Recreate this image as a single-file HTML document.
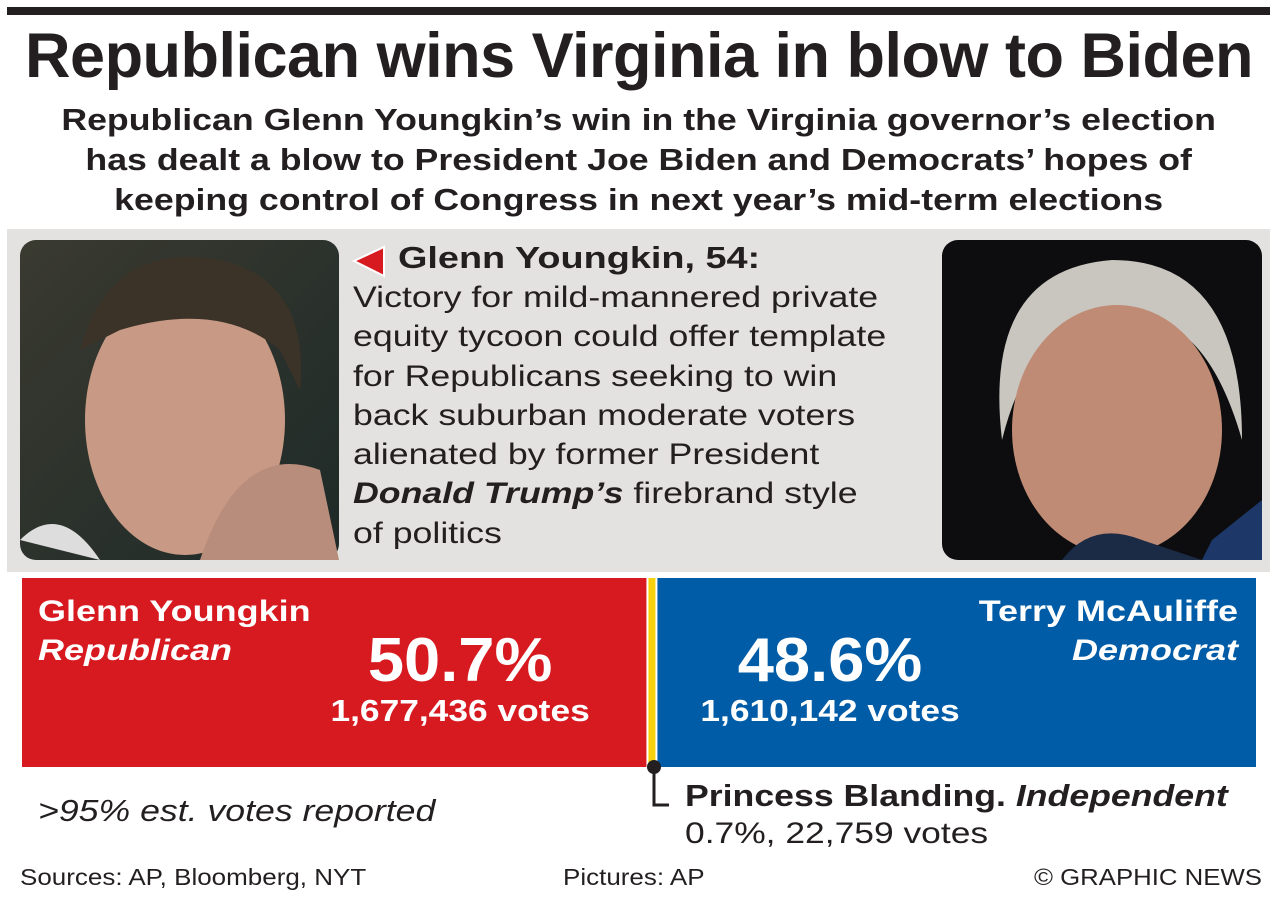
<!DOCTYPE html>
<html><head><meta charset="utf-8"><style>
body{margin:0;width:1278px;height:906px;background:#fff;font-family:"Liberation Sans",Arial,sans-serif;color:#231f20;position:relative;overflow:hidden}
.a{position:absolute;white-space:nowrap}
</style></head><body>
<div class="a" style="left:7px;top:7px;width:1263px;height:8px;background:#231f20"></div>
<div class="a" style="left:0;width:1278px;text-align:center;top:20px;font-size:63px;font-weight:bold;letter-spacing:-0.5px">Republican wins Virginia in blow to Biden</div>
<div class="a" style="left:0;width:1278px;text-align:center;top:100px;font-size:30.5px;font-weight:bold;line-height:40px;transform:scaleX(1.17);transform-origin:641px 0">Republican Glenn Youngkin’s win in the Virginia governor’s election<br>has dealt a blow to President Joe Biden and Democrats’ hopes of<br>keeping control of Congress in next year’s mid-term elections</div>
<div class="a" style="left:7px;top:229px;width:1263px;height:343px;background:#e4e2e1"></div>
<svg class="a" style="left:20px;top:240px" width="319" height="320"><defs><linearGradient id="g1" x1="0" y1="0" x2="1" y2="1"><stop offset="0" stop-color="#3a3a30"/><stop offset="1" stop-color="#1e2a28"/></linearGradient></defs><rect width="319" height="320" rx="16" fill="url(#g1)"/><ellipse cx="165" cy="180" rx="100" ry="135" fill="#c89a85"/><path d="M60 110 Q90 0 200 20 Q290 40 280 150 L260 110 Q200 60 100 90 Z" fill="#3b3328"/><path d="M180 320 Q220 200 300 230 L319 320 Z" fill="#b98d7c"/><path d="M0 300 Q40 260 80 320 Z" fill="#ddd"/></svg>
<svg class="a" style="left:942px;top:240px" width="320" height="320"><rect width="320" height="320" rx="16" fill="#0d0d0f"/><path d="M60 200 Q40 30 170 20 Q300 20 300 200 Q260 60 170 80 Q90 80 60 200Z" fill="#c9c6c0"/><ellipse cx="175" cy="190" rx="105" ry="125" fill="#c08b75"/><path d="M120 320 Q150 280 200 300 L260 320Z" fill="#1b2a45"/><path d="M270 300 L320 260 L320 320 L260 320Z" fill="#1d3868"/></svg>
<svg class="a" style="left:352px;top:244px" width="36" height="36"><path d="M2 17 L32 3 L32 32 Z" fill="#d71920" stroke="#fff" stroke-width="2"/></svg>
<div class="a" style="left:398px;top:240px;font-size:31px;font-weight:bold;transform:scaleX(1.22);transform-origin:0 0">Glenn Youngkin, 54:</div>
<div class="a" style="left:353px;top:278px;font-size:30px;line-height:39.3px;transform:scaleX(1.19);transform-origin:0 0">Victory for mild-mannered private<br>equity tycoon could offer template<br>for Republicans seeking to win<br>back suburban moderate voters<br>alienated by former President<br><b><i>Donald Trump’s</i></b> firebrand style<br>of politics</div>
<svg class="a" style="left:0;top:570px" width="1278" height="220" id="chart"></svg>
<div class="a" style="left:38px;top:793px;font-size:31px;font-style:italic;transform:scaleX(1.15);transform-origin:0 0">&gt;95% est. votes reported</div>
<div class="a" style="left:685px;top:778px;font-size:31px;font-weight:bold;transform:scaleX(1.15);transform-origin:0 0">Princess Blanding. <i>Independent</i></div>
<div class="a" style="left:685px;top:817px;font-size:30px;transform:scaleX(1.18);transform-origin:0 0">0.7%, 22,759 votes</div>
<svg class="a" style="left:640px;top:755px" width="40" height="60"><circle cx="14" cy="12" r="7" fill="#231f20"/><path d="M14 12 V50 H29" stroke="#231f20" stroke-width="3" fill="none"/></svg>
<div class="a" style="left:20px;top:864px;font-size:23px;transform:scaleX(1.13);transform-origin:0 0">Sources: AP, Bloomberg, NYT</div>
<div class="a" style="left:563px;top:864px;font-size:23px;transform:scaleX(1.13);transform-origin:0 0">Pictures: AP</div>
<div class="a" style="left:1034px;top:864px;font-size:23px;transform:scaleX(1.12);transform-origin:0 0">© GRAPHIC NEWS</div>
<script>
const candidates=["Glenn Youngkin","Terry McAuliffe"];
const parties=["Republican","Democrat"];
const shares=[50.7,48.6];
const votes=["1,677,436","1,610,142"];
const colors=["#d71920","#005ca6"];
const svg=document.getElementById('chart');
const NS="http://www.w3.org/2000/svg";
const x0=22,total=1234,gap=11,y=8,h=189;
const sum=shares[0]+shares[1];
const scale=v=>(total-gap)*v/sum;
function mk(t,a){const e=document.createElementNS(NS,t);for(const k in a)e.setAttribute(k,a[k]);svg.appendChild(e);return e;}
const wR=scale(shares[0]),wB=scale(shares[1]);
const r=mk('rect',{x:x0,y:y,width:wR,height:h,fill:colors[0]});


const yl=mk('rect',{x:x0+wR+2,y:y,width:gap-4,height:h,fill:'#f6d10e'});


const b=mk('rect',{x:x0+wR+gap,y:y,width:wB,height:h,fill:colors[1]});


function txt(s,x,yy,size,anchor,style,name,sx){const t=mk('text',{x:0,y:0,transform:'translate('+x+','+yy+') scale('+sx+',1)','font-size':size,'text-anchor':anchor,fill:'#fff','font-weight':'bold','font-family':'Liberation Sans, Arial, sans-serif'});if(style)t.setAttribute('font-style',style);t.textContent=s;return t;}
const cR=x0+wR*0.7, cB=x0+wR+gap+wB*0.3;
txt(candidates[0],38,51,30,'start',null,'rep-name',1.2);
txt(parties[0],38,90,30,'start','italic','rep-party',1.2);
txt(shares[0].toFixed(1)+'%',cR+1,111,62,'middle',null,'rep-share',1.05);
txt(votes[0]+' votes',cR+1,151,31,'middle',null,'rep-votes',1.14);
txt(candidates[1],1238,51,30,'end',null,'dem-name',1.2);
txt(parties[1],1238,90,30,'end','italic','dem-party',1.2);
txt(shares[1].toFixed(1)+'%',cB-7,111,62,'middle',null,'dem-share',1.05);
txt(votes[1]+' votes',cB-7,151,31,'middle',null,'dem-votes',1.14);
</script>
</body></html>
